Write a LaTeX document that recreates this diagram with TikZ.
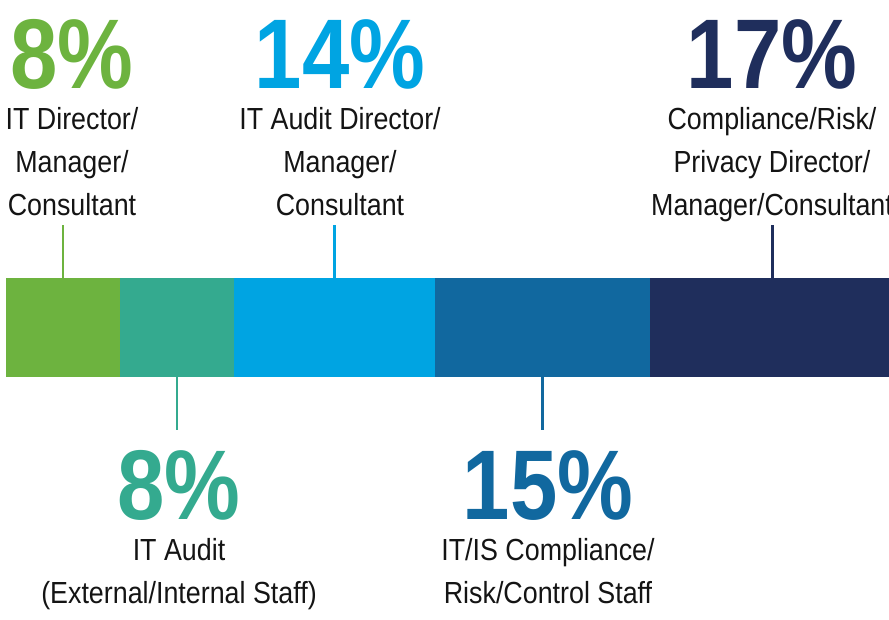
\documentclass[tikz,border=0pt]{standalone}
\usepackage{fontspec}
\setmainfont[FakeStretch=0.88]{Liberation Sans}
\newfontfamily\pctfont[FakeStretch=0.86]{Liberation Sans}
\usetikzlibrary{positioning}

\definecolor{cGreen}{RGB}{109,179,63}
\definecolor{cTeal}{RGB}{52,170,143}
\definecolor{cSky}{RGB}{0,164,226}
\definecolor{cBlue}{RGB}{17,104,159}
\definecolor{cNavy}{RGB}{31,46,92}
\definecolor{cInk}{RGB}{20,20,20}

\tikzset{
  seg/.style={rectangle, inner sep=0pt, outer sep=0pt, minimum height=99pt},
  pct/.style={font=\pctfont\bfseries\fontsize{99}{99}\selectfont, inner sep=0pt, anchor=base},
  lbl/.style={font=\fontsize{30.5}{43}\selectfont, align=center, inner sep=0pt, text=cInk},
  lead/.style={line width=2.4pt}
}

\begin{document}
\begin{tikzpicture}[x=1pt,y=-1pt]
  \useasboundingbox (0,0) rectangle (889,619);

  % the bar
  \node[seg, fill=cGreen, minimum width=114pt, anchor=north west] (s1) at (6,278) {};
  \node[seg, fill=cTeal, minimum width=114pt, right=0pt of s1] (s2) {};
  \node[seg, fill=cSky, minimum width=201pt, right=0pt of s2] (s3) {};
  \node[seg, fill=cBlue, minimum width=215pt, right=0pt of s3] (s4) {};
  \node[seg, fill=cNavy, minimum width=245pt, right=0pt of s4] (s5) {};

  % labels above
  \node[pct, text=cGreen] (n1) at (72,88) {8\%};
  \node[lbl, below=18pt of n1] (l1) {IT Director/\\Manager/\\Consultant};
  \node[pct, text=cSky] (n3) at (340,88) {14\%};
  \node[lbl, below=18pt of n3] (l3) {IT Audit Director/\\Manager/\\Consultant};
  \node[pct, text=cNavy] (n5) at (772,88) {17\%};
  \node[lbl, below=18pt of n5] (l5) {Compliance/Risk/\\Privacy Director/\\Manager/Consultant};

  % labels below
  \node[pct, text=cTeal] (n2) at (179,519) {8\%};
  \node[lbl, below=18pt of n2] (l2) {IT Audit\\(External/Internal Staff)};
  \node[pct, text=cBlue] (n4) at (548,519) {15\%};
  \node[lbl, below=18pt of n4] (l4) {IT/IS Compliance/\\Risk/Control Staff};

  % leader lines
  \coordinate (up) at (0,225);
  \coordinate (down) at (0,430);
  \draw[lead, cGreen] (s1.north) -- (s1.north |- up);
  \draw[lead, cSky] (s3.north) -- (s3.north |- up);
  \draw[lead, cNavy] (s5.north) -- (s5.north |- up);
  \draw[lead, cTeal] (s2.south) -- (s2.south |- down);
  \draw[lead, cBlue] (s4.south) -- (s4.south |- down);
\end{tikzpicture}
\end{document}
